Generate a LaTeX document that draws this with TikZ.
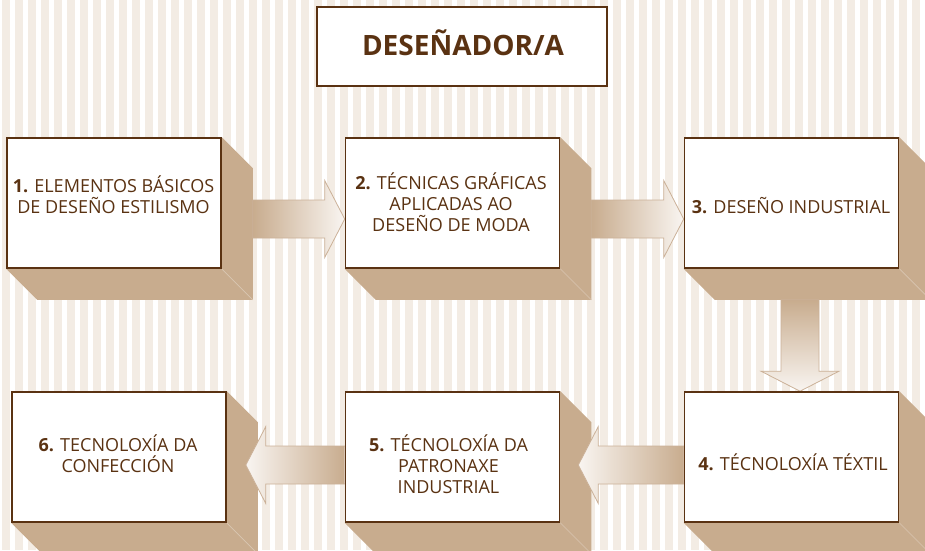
\documentclass[tikz,border=0pt]{standalone}
\usepackage{fontspec}
\setmainfont{Open Sans}
\usetikzlibrary{calc}
\pgfdeclarelayer{stripes}
\pgfdeclarelayer{shadows}
\pgfdeclarelayer{arrows}
\pgfsetlayers{stripes,shadows,arrows,main}
\definecolor{stripe}{HTML}{F3ECE4}
\definecolor{shadow}{HTML}{C8AC8E}
\definecolor{brownink}{HTML}{5A3212}
\definecolor{arrline}{HTML}{CBB198}
\definecolor{diagl}{HTML}{D9C6B2}
\definecolor{tipwhite}{HTML}{F9F5F1}
\newcommand\boxlines[1]{\vtop{\baselineskip=21pt\lineskiplimit=-\maxdimen\halign{\hfil##\hfil\cr#1\cr}}}
\begin{document}
\begin{tikzpicture}[x=1pt,y=-1pt,
  box/.style={draw=brownink, line width=1.6pt, fill=white, minimum width=214pt, minimum height=130pt, inner sep=0pt},
  titlebox/.style={draw=brownink, line width=2pt, fill=white, minimum width=290pt, minimum height=79pt, inner sep=0pt},
  txt/.style={text=brownink, font=\fontsize{18}{21}\selectfont, anchor=base, inner sep=0pt},
  titletxt/.style={text=brownink, font=\fontsize{28}{34}\selectfont\bfseries, anchor=base, inner sep=0pt},
  shad/.style={fill=shadow},
  diagline/.style={draw=diagl, line width=0.7pt},
  arr/.style={draw=arrline, line width=0.8pt, line join=miter},
]
\useasboundingbox (0,0) rectangle (925,550);

% boxes
\node[titlebox] (title) at (462,46.5) {};
\node[box] (b1) at (114,203) {};
\node[box] (b2) at (452.5,203) {};
\node[box] (b3) at (791.5,203) {};
\node[box] (b4) at (791.5,457) {};
\node[box] (b5) at (452.5,457) {};
\node[box] (b6) at (119,457) {};

% texts
\node[titletxt] (tt) at (463,55) {DESEÑADOR/A};
\node[txt] (t1) at (113.5,192.7) {\boxlines{\textbf{1.} ELEMENTOS BÁSICOS\cr DE DESEÑO ESTILISMO}};
\node[txt] (t2) at (451,189.3) {\boxlines{\textbf{2.} TÉCNICAS GRÁFICAS\cr APLICADAS AO\cr DESEÑO DE MODA}};
\node[txt] (t3) at (791,213.3) {\textbf{3.} DESEÑO INDUSTRIAL};
\node[txt] (t4) at (793,470.7) {\textbf{4.} TÉCNOLOXÍA TÉXTIL};
\node[txt] (t5) at (448.5,451) {\boxlines{\textbf{5.} TÉCNOLOXÍA DA\cr PATRONAXE\cr INDUSTRIAL}};
\node[txt] (t6) at (118,451) {\boxlines{\textbf{6.} TECNOLOXÍA DA\cr CONFECCIÓN}};

% arrow end points
\coordinate (a1s) at ($(b1.east)+(31,16)$);
\coordinate (a1e) at ($(b2.west)+(0,16)$);
\coordinate (a2s) at ($(b2.east)+(31,16)$);
\coordinate (a2e) at ($(b3.west)+(0,16)$);
\coordinate (a3s) at ($(b3.south)+(8.5,31)$);
\coordinate (a3e) at ($(b4.north)+(8.5,0)$);
\coordinate (a4s) at ($(b4.west)+(0,8)$);
\coordinate (a4e) at ($(b5.east)+(18,8)$);
\coordinate (a5s) at ($(b5.west)+(0,8)$);
\coordinate (a5e) at ($(b6.east)+(19,8)$);

\begin{pgfonlayer}{stripes}
  \foreach \i in {0,...,71} \fill[stripe] ({2+13*\i},0) rectangle ++(7.5,550);
\end{pgfonlayer}

\begin{pgfonlayer}{shadows}
  \foreach \b in {b1,b2,b3,b4,b5,b6} {
    \fill[shad] (\b.north east) -- ($(\b.north east)+(31,31)$) -- ($(\b.south east)+(31,31)$)
      -- ($(\b.south west)+(31,31)$) -- (\b.south west) -- cycle;
    \draw[diagline] (\b.south east) -- ($(\b.south east)+(31,31)$);
  }
\end{pgfonlayer}

\begin{pgfonlayer}{arrows}
  % right-pointing arrows
  \foreach \s/\e in {a1s/a1e, a2s/a2e} {
    \path[arr, left color=shadow, right color=tipwhite] let \p1=(\s), \p2=(\e) in
      (\x1,\y1+19pt) -- (\x2-20pt,\y1+19pt) -- (\x2-20pt,\y1+38.5pt) -- (\x2,\y1)
      -- (\x2-20pt,\y1-38.5pt) -- (\x2-20pt,\y1-19pt) -- (\x1,\y1-19pt) -- cycle;
  }
  % left-pointing arrows
  \foreach \s/\e in {a4s/a4e, a5s/a5e} {
    \path[arr, left color=tipwhite, right color=shadow] let \p1=(\s), \p2=(\e) in
      (\x1,\y1+19pt) -- (\x2+20pt,\y1+19pt) -- (\x2+20pt,\y1+38.5pt) -- (\x2,\y1)
      -- (\x2+20pt,\y1-38.5pt) -- (\x2+20pt,\y1-19pt) -- (\x1,\y1-19pt) -- cycle;
  }
  % down arrow
  \path[arr, top color=shadow, bottom color=tipwhite] let \p1=(a3s), \p2=(a3e) in
    (\x1-19pt,\y1) -- (\x1-19pt,\y2+20pt) -- (\x1-39pt,\y2+20pt) -- (\x1,\y2)
    -- (\x1+39pt,\y2+20pt) -- (\x1+19pt,\y2+20pt) -- (\x1+19pt,\y1) -- cycle;
\end{pgfonlayer}
\end{tikzpicture}
\end{document}
